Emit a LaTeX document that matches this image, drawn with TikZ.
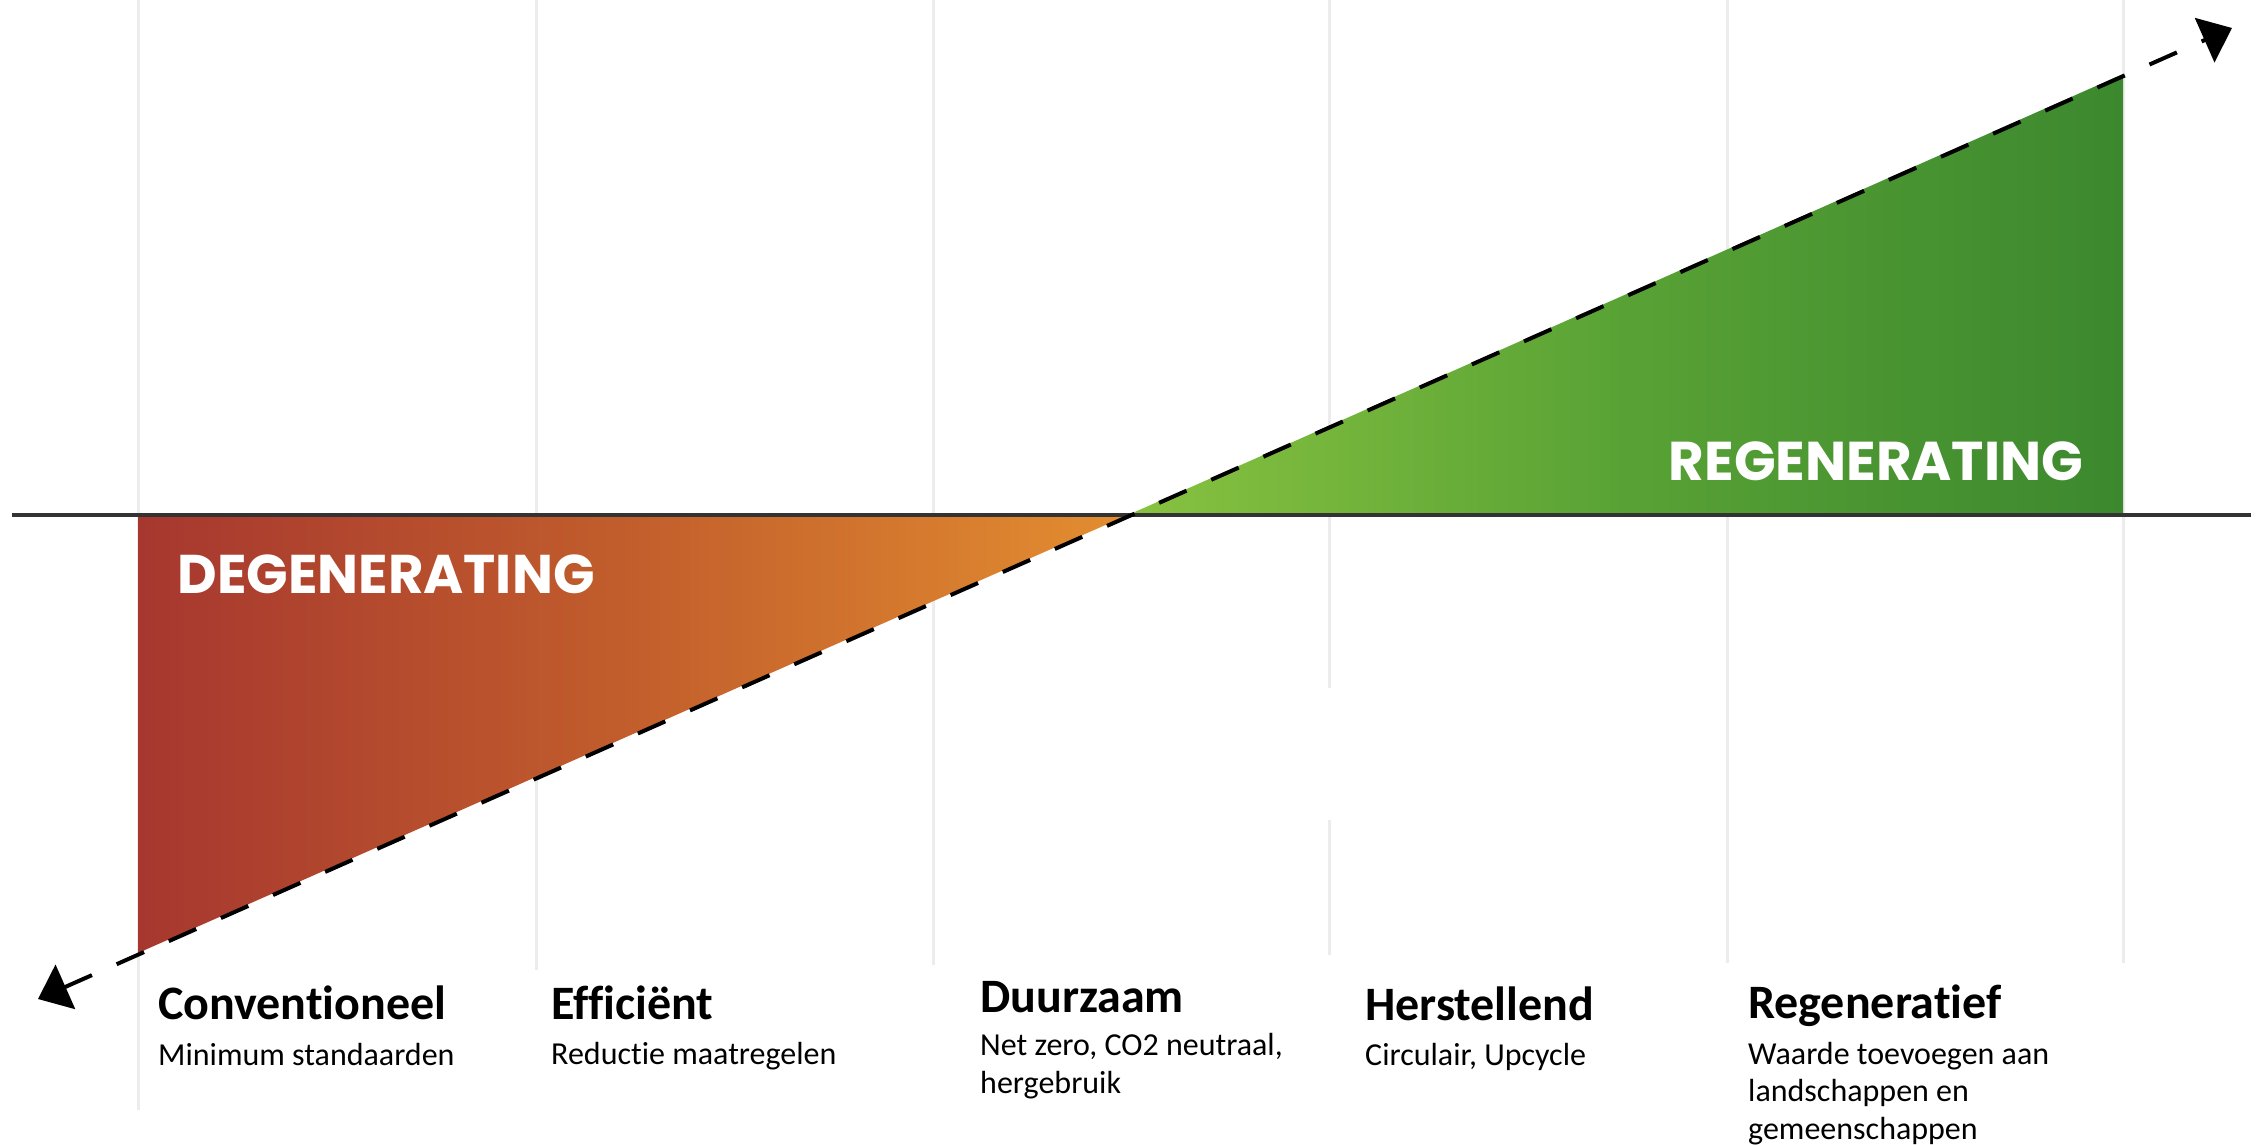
\documentclass[tikz,border=0pt]{standalone}
\usepackage{fontspec}
\setmainfont{Carlito}[Ligatures=NoCommon]
\newfontfamily\bannerfont{Poppins}
\usetikzlibrary{arrows.meta}
\definecolor{gridgray}{HTML}{ECECEC}
\definecolor{axisgray}{HTML}{333333}
\definecolor{degleft}{HTML}{A6372F}
\definecolor{degmid}{HTML}{C25E2C}
\definecolor{degright}{HTML}{E38E30}
\definecolor{regleft}{HTML}{88C240}
\definecolor{regmid}{HTML}{58A235}
\definecolor{regright}{HTML}{3C882E}
\begin{document}
\begin{tikzpicture}[x=1pt,y=-1pt,
  gridline/.style={line width=3pt, color=gridgray},
  axisline/.style={line width=3.5pt, color=axisgray},
  trendline/.style={line width=4pt, black, dash pattern=on 30pt off 27pt,
     {Triangle[length=30pt,width=48pt]}-{Triangle[length=30pt,width=48pt]}},
  titletext/.style={anchor=base west, inner sep=0pt, font=\fontsize{48}{58}\selectfont\bfseries},
  subtext/.style={anchor=base west, inner sep=0pt, font=\fontsize{32}{38}\selectfont},
  bannertext/.style={inner sep=0pt, text=white, font=\bannerfont\bfseries}]
\useasboundingbox[fill=white] (0,0) rectangle (2260,1144);

% grid lines
\draw[gridline] (138,0) -- (138,1110);
\draw[gridline] (536,0) -- (536,970);
\draw[gridline] (933,0) -- (933,965);
\draw[gridline] (1329,0) -- (1329,688);
\draw[gridline] (1329,820) -- (1329,955);
\draw[gridline] (1727,0) -- (1727,963);
\draw[gridline] (2123,0) -- (2123,963);

% key points
\coordinate (apex) at (1128,515);
\coordinate (redcorner) at (138,953);
\coordinate (redtop) at (138,515);
\coordinate (greencorner) at (2123,74);
\coordinate (greenbottom) at (2123,515);
\coordinate (axisL) at (12,515);
\coordinate (axisR) at (2251,515);
\coordinate (trendL) at (38,999);
\coordinate (trendR) at (2232,28);

% triangles
\shade[left color=degleft, right color=degright, middle color=degmid]
  (redtop) -- (redcorner) -- (apex) -- cycle;
\shade[left color=regleft, right color=regright, middle color=regmid]
  (apex) -- (greencorner) -- (greenbottom) -- cycle;

% axis
\draw[axisline] (axisL) -- (axisR);

% banners
\node[bannertext] (deg) at (386,574) {\resizebox{417pt}{!}{DEGENERATING}};
\node[bannertext] (reg) at (1876,461) {\resizebox{414pt}{!}{REGENERATING}};

% trend
\draw[trendline] (trendL) -- (trendR);

% labels
\node[titletext] (t1) at (158,1019) {Conventioneel};
\node[subtext] (s1) at (158,1065) {Minimum standaarden};
\node[titletext] (t2) at (551,1019) {Efficiënt};
\node[subtext] (s2) at (551,1064) {Reductie maatregelen};
\node[titletext] (t3) at (980,1012) {Duurzaam};
\node[subtext] (s3a) at (980,1055) {Net zero, CO2 neutraal,};
\node[subtext] (s3b) at (980,1093) {hergebruik};
\node[titletext] (t4) at (1365,1020) {Herstellend};
\node[subtext] (s4) at (1365,1065) {Circulair, Upcycle};
\node[titletext] (t5) at (1748,1018) {Regeneratief};
\node[subtext] (s5a) at (1748,1064) {Waarde toevoegen aan};
\node[subtext] (s5b) at (1748,1101) {landschappen en};
\node[subtext] (s5c) at (1748,1139) {gemeenschappen};
\end{tikzpicture}
\end{document}
